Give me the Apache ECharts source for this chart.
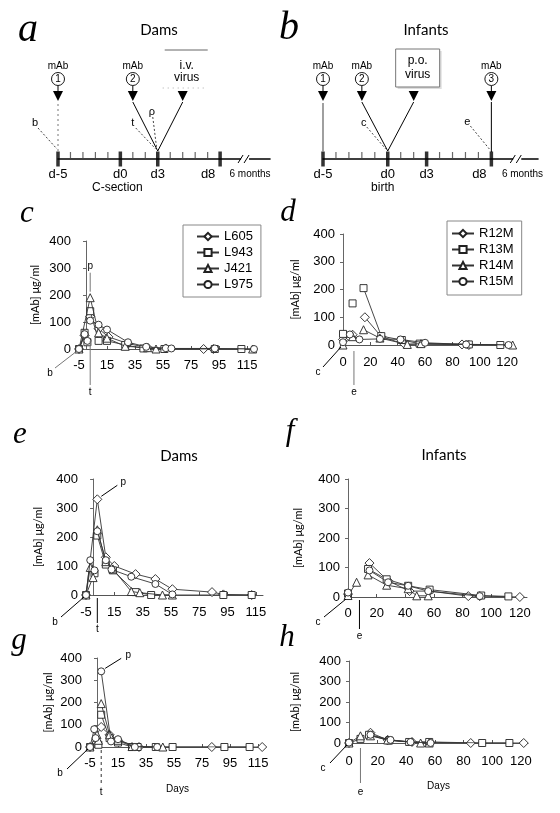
<!DOCTYPE html>
<html><head><meta charset="utf-8">
<script src="https://cdn.jsdelivr.net/npm/echarts@6.0.0/dist/echarts.min.js"></script>
<style>html,body{margin:0;padding:0;background:#fff;}#main{width:560px;height:813px;}</style>
</head><body><div id="main"></div>
<script>
const GAP = '-';
// ---------- timelines (panels a, b) ----------
const timelineMajorDays = [-5, 0, 3, 8];
const timelineMajorLabels = ['d-5', 'd0', 'd3', 'd8'];
const timelineMinorDays = [-4, -3, -2, -1, 1, 2, 4, 5, 6, 7];
const damsMabDays = [-5, 1];
const damsVirusDay = 5;
const damsEventDay = 3;
const infantMabDays = [-5, -2, 8];
const infantVirusDay = 2;
const infantEventDay = 0;
const breakDay = 10;

// ---------- animals ----------
const damNames = ['L605', 'L943', 'J421', 'L975'];
const infantNames = ['R12M', 'R13M', 'R14M', 'R15M'];

// ---------- panel c (dams) [day, µg/ml] ----------
const cL605 = [[-5,0],[-1,50],GAP,[3,120],[9,75],[16,45],[30,20],[44,5],[57,2],[84,0],[91,0]];
const cL943 = [[-5,0],[-1,60],[1,25],GAP,[3,140],[9,30],[15,30],[28,15],[41,2],[56,0],[92,0],[111,0]];
const cJ421 = [[-5,0],[3,190],[9,60],[15,40],[28,10],[44,5],[50,0],[119,0]];
const cL975 = [[-5,0],[-1,55],[1,30],GAP,[3,105],[9,90],[15,72],[30,25],[43,8],[57,3],[61,2],[92,2],[120,0]];
// ---------- panel d (infants) ----------
const dR12M = [[0,20],[7,37],GAP,[16,100],[28,30],[45,3],[87,2],[92,0]];
const dR13M = [[0,40],GAP,[7,150],GAP,[15,205],[28,32],[43,18],[56,5],[92,2],[115,0]];
const dR14M = [[0,0],[7,30],GAP,[15,55],[27,25],[47,2],[57,5],[124,0]];
const dR15M = [[0,10],[5,38],[12,20],[27,22],[42,20],[60,8],[90,2],[121,0]];
// ---------- panel e (dams) ----------
const eL605 = [[-5,0],[3,330],[9,130],[15,100],[30,72],[44,55],[56,20],[84,10],[92,2],[112,0]];
const eL943 = [[-5,0],[1,75],GAP,[3,205],[9,105],[14,85],[30,10],[41,0],[92,0],[112,0]];
const eJ421 = [[-5,0],[-2,95],[0,60],GAP,[3,225],[9,115],[14,90],[27,12],[33,8],[49,0],[56,0]];
const eL975 = [[-5,0],[-2,120],[1,85],GAP,[3,220],[9,120],[13,88],[27,63],[44,38],[56,2]];
// ---------- panel f (infants) ----------
const fR12M = [[0,10],GAP,[15,115],[28,55],[43,20],[57,20],[84,3],[92,3],[120,0]];
const fR13M = [[0,12],GAP,[14,95],[27,60],[42,38],[57,25],[93,5],[112,2]];
const fR14M = [[0,5],[6,50],GAP,[14,75],[27,40],[42,28],[48,4],[56,4]];
const fR15M = [[0,15],GAP,[15,90],[28,50],[42,38],[56,20],[92,3]];
// ---------- panel g (dams) ----------
const gL605 = [[-5,0],[3,90],[9,55],[15,30],[30,0],[82,0],[118,0]];
const gL943 = [[-5,0],[1,10],GAP,[3,145],[9,40],[15,20],[25,0],[29,0],[42,0],[54,0],[91,0],[109,0]];
const gJ421 = [[-5,0],[0,55],[1,30],GAP,[3,195],[9,55],[15,30],[25,2],[47,0]];
const gL975 = [[-5,0],[-2,80],[-1,40],GAP,[3,340],[10,25],[15,35],[27,0],[43,0]];
// ---------- panel h (infants) ----------
const hR12M = [[0,0],GAP,[15,50],[27,15],[44,5],[85,0],[122,0]];
const hR13M = [[0,0],[8,20],GAP,[14,40],[28,12],[42,5],[56,5],[93,0],[112,0]];
const hR14M = [[0,0],[8,35],GAP,[15,35],[27,15],[50,0],[56,0]];
const hR15M = [[0,2],GAP,[15,40],[29,15],[43,5],[57,0]];

const yMin = 0, yMax = 400, yStep = 100, xStep = 20;
const yName = '[mAb] \u03bcg/ml';

// ---------- layout / style ----------
const SANS = '"Liberation Sans", Arial, sans-serif';
const HUM = 'Lato, "Open Sans", sans-serif';
const SERIF = '"Liberation Serif", "DejaVu Serif", serif';
const symbols = ['diamond', 'rect', 'triangle', 'circle'];
const symSizes = [9, 7, 8, 7];

const grids = [
  {left: 58, top: 150, width: 212, height: 9},
  {left: 323, top: 150, width: 215, height: 9},
  {left: 79, top: 241, width: 175, height: 108},
  {left: 343, top: 234, width: 171, height: 111},
  {left: 86, top: 479, width: 177, height: 116},
  {left: 348, top: 479, width: 179, height: 118},
  {left: 90, top: 658, width: 175, height: 89},
  {left: 349, top: 661, width: 179, height: 82}
];

const panels = [
  {gi: 2, names: damNames, data: [cL605, cL943, cJ421, cL975], xmin: -5, gap: 38, lm: 10},
  {gi: 3, names: infantNames, data: [dR12M, dR13M, dR14M, dR15M], xmin: 0, gap: 42, lm: 11},
  {gi: 4, names: damNames, data: [eL605, eL943, eJ421, eL975], xmin: -5, gap: 42, lm: 11},
  {gi: 5, names: infantNames, data: [fR12M, fR13M, fR14M, fR15M], xmin: 0, gap: 44, lm: 10},
  {gi: 6, names: damNames, data: [gL605, gL943, gJ421, gL975], xmin: -5, gap: 36, lm: 10, days: true, dgap: 37},
  {gi: 7, names: infantNames, data: [hR12M, hR13M, hR14M, hR15M], xmin: 0, gap: 48, lm: 12, days: true, dgap: 38}
];

const xAxes = [], yAxes = [], series = [];

function tlFormatter(v) {
  const i = timelineMajorDays.indexOf(Math.round(v * 1000) / 1000);
  if (i < 0) return '';
  return v === 8 ? '{s|' + timelineMajorLabels[i] + '}' : timelineMajorLabels[i];
}
[[0, 12], [1, 11.6]].forEach(([gi, max]) => {
  xAxes.push({gridIndex: gi, type: 'value', min: -5, max: max, interval: 1,
    splitLine: {show: false}, axisTick: {show: false},
    axisLine: {show: true, onZero: false, lineStyle: {color: '#000', width: 1.6}},
    axisLabel: {show: true, margin: 9, fontSize: 13, fontFamily: SANS, color: '#000',
      showMaxLabel: false, formatter: tlFormatter,
      rich: {s: {padding: [0, 24, 0, 0], fontSize: 13, fontFamily: SANS, color: '#000'}}}});
  yAxes.push({gridIndex: gi, type: 'value', min: 0, max: 1, show: false});
  series.push({type: 'scatter', xAxisIndex: gi, yAxisIndex: gi, silent: true, z: 3,
    data: timelineMinorDays.map(d => [d, 0]), symbol: 'rect', symbolSize: [1.2, 7],
    symbolOffset: [0, -3.5], itemStyle: {color: '#444'}});
  series.push({type: 'scatter', xAxisIndex: gi, yAxisIndex: gi, silent: true, z: 4,
    data: timelineMajorDays.map(d => [d, 0]), symbol: 'rect', symbolSize: [3.5, 15],
    itemStyle: {color: '#000'}});
});

panels.forEach(p => {
  xAxes.push({gridIndex: p.gi, type: 'value', min: p.xmin, max: p.xmin === -5 ? 120 : 125,
    interval: xStep, splitLine: {show: false},
    axisLine: {onZero: false, lineStyle: {color: '#555', width: 1}},
    axisTick: {show: true, inside: true, length: 3, lineStyle: {color: '#555'}},
    axisLabel: {showMaxLabel: false, margin: p.lm, fontSize: 13, fontFamily: SANS, color: '#000'},
    name: p.days ? 'Days' : '', nameLocation: 'middle', nameGap: p.dgap || 30,
    nameTextStyle: {fontSize: 10, fontFamily: SANS, color: '#000'}});
  yAxes.push({gridIndex: p.gi, type: 'value', min: yMin, max: yMax, interval: yStep,
    splitLine: {show: false},
    axisLine: {show: true, lineStyle: {color: '#666', width: 1}},
    axisTick: {show: true, length: 3, lineStyle: {color: '#666'}},
    axisLabel: {margin: 8, fontSize: 13, fontFamily: SANS, color: '#000'},
    name: yName, nameLocation: 'middle', nameGap: p.gap,
    nameTextStyle: {fontSize: 11, fontFamily: HUM, color: '#000'}});
  p.data.forEach((arr, k) => {
    series.push({type: 'line', name: p.names[k], xAxisIndex: p.gi, yAxisIndex: p.gi,
      data: arr.map(v => v === GAP ? ['-', '-'] : v), connectNulls: false,
      symbol: symbols[k], symbolSize: symSizes[k], showSymbol: true, showAllSymbol: true,
      lineStyle: {color: '#333', width: 0.9}, itemStyle: {color: '#fff', borderColor: '#222', borderWidth: 0.9},
      emphasis: {disabled: true}, z: 5 + k});
  });
});

const legendBase = {orient: 'vertical', itemWidth: 22, itemHeight: 9, itemGap: 3,
  borderColor: '#888', borderWidth: 1, backgroundColor: '#fff',
  textStyle: {fontSize: 13, fontFamily: SANS, color: '#000'}, selectedMode: false};

const option = {
  animation: false,
  backgroundColor: '#fff',
  grid: grids,
  xAxis: xAxes,
  yAxis: yAxes,
  legend: [
    Object.assign({}, legendBase, {data: damNames, left: 183, top: 225, padding: [5, 8, 6, 13]}),
    Object.assign({}, legendBase, {data: infantNames, left: 447, top: 221, padding: [6, 8, 7, 4]})
  ],
  series: series
};

const chart = echarts.init(document.getElementById('main'), null, {renderer: 'canvas'});
chart.setOption(option);

// ---------- annotations ----------
const P = (gi, x, y) => chart.convertToPixel({gridIndex: gi}, [x, y]);
const G = [];
function T(x, y, text, o) {
  G.push({type: 'text', silent: true, z: 50, x: x, y: y,
    style: Object.assign({text: text, fill: '#000', fontSize: 12, fontFamily: SANS, align: 'center', verticalAlign: 'middle'}, o || {})});
}
function L(x1, y1, x2, y2, o) {
  G.push({type: 'line', silent: true, z: 49, shape: {x1: x1, y1: y1, x2: x2, y2: y2},
    style: Object.assign({stroke: '#000', lineWidth: 1}, o || {})});
}
function ARROW(x, y) {
  G.push({type: 'polygon', silent: true, z: 50, shape: {points: [[x - 5, y - 10], [x + 5, y - 10], [x, y]]}, style: {fill: '#000'}});
}
function CIRC(x, y, n) {
  G.push({type: 'circle', silent: true, z: 50, shape: {cx: x, cy: y, r: 6.5}, style: {fill: '#fff', stroke: '#000', lineWidth: 0.9}});
  T(x, y + 0.5, String(n), {fontSize: 10});
}
function mab(x, n) { T(x, 66, 'mAb', {fontSize: 10}); CIRC(x, 79, n); L(x, 85.5, x, 92); ARROW(x, 101); }
const DASH = {lineDash: [2, 2], stroke: '#444'};
function brk(gi, yTL) {
  const xb = P(gi, breakDay, 0)[0];
  G.push({type: 'rect', silent: true, z: 48, shape: {x: xb - 4, y: yTL - 3, width: 8, height: 6}, style: {fill: '#fff'}});
  L(xb - 7, yTL + 4, xb - 2, yTL - 4); L(xb - 1, yTL + 4, xb + 4, yTL - 4);
  T(P(gi, 10.4, 0)[0], 174, '6 months', {fontSize: 10});
}

// panel a
(function () {
  const yTL = P(0, 0, 0)[1];
  const xc = P(0, damsEventDay, 0)[0];
  const x1 = P(0, damsMabDays[0], 0)[0], x2 = P(0, damsMabDays[1], 0)[0], xv = P(0, damsVirusDay, 0)[0];
  mab(x1, 1); mab(x2, 2);
  L(x1, 104, x1, yTL - 8, {stroke: '#777', lineDash: [2, 3]});
  L(x2, 102, xc, yTL - 8); L(xv, 102, xc, yTL - 8);
  ARROW(xv, 101);
  T(xv + 4, 66, 'i.v.', {fontSize: 12}); T(xv + 4, 78, 'virus', {fontSize: 12});
  L(xv - 18, 50, xv + 25, 50, {stroke: '#666'}); L(xv - 20, 88, xv + 25, 88, {stroke: '#aaa', lineDash: [1, 4]});
  T(x1 - 23, 123, 'b', {fontSize: 11}); L(x1 - 20, 128, x1 - 1, yTL - 10, DASH);
  T(xc - 25, 123, 't', {fontSize: 11}); L(xc - 22, 128, xc - 2, yTL - 10, DASH);
  T(xc - 6, 112, '\u03c1', {fontSize: 11}); L(xc - 5, 117, xc - 1, yTL - 10, DASH);
  T(P(0, 0, 0)[0] - 3, 188, 'C-section', {fontSize: 12});
  brk(0, yTL);
})();
// panel b
(function () {
  const yTL = P(1, 0, 0)[1];
  const xc = P(1, infantEventDay, 0)[0];
  const xs = infantMabDays.map(d => P(1, d, 0)[0]);
  const xv = P(1, infantVirusDay, 0)[0];
  mab(xs[0], 1); mab(xs[1], 2); mab(xs[2], 3);
  L(xs[0], 103, xs[0], yTL - 7, {stroke: '#888', lineWidth: 1.6});
  L(xs[1], 102, xc, yTL - 8); L(xv, 102, xc, yTL - 8);
  L(xs[2], 102, xs[2], yTL - 7);
  ARROW(xv, 101);
  G.push({type: 'rect', silent: true, z: 47, shape: {x: xv - 16, y: 51, width: 44, height: 38}, style: {fill: '#ddd'}});
  G.push({type: 'rect', silent: true, z: 48, shape: {x: xv - 18, y: 49, width: 44, height: 38}, style: {fill: '#fff', stroke: '#777', lineWidth: 1}});
  T(xv + 4, 61, 'p.o.', {fontSize: 12}); T(xv + 4, 75, 'virus', {fontSize: 12});
  T(xc - 24, 123, 'c', {fontSize: 11}); L(xc - 21, 127, xc - 2, yTL - 10, DASH);
  T(xs[2] - 24, 122, 'e', {fontSize: 11}); L(xs[2] - 21, 126, xs[2] - 2, yTL - 10, DASH);
  T(xc - 5, 188, 'birth', {fontSize: 12});
  brk(1, yTL);
})();

// data panels
function origin(gi, xmin) { return P(gi, xmin, 0); }
const SM = {fontSize: 10};
const GREY = {stroke: '#777'};
(function () { // c
  const O = origin(2, -5);
  T(O[0] - 29, O[1] + 24, 'b', SM); L(O[0] - 24, O[1] + 19, O[0] - 2, O[1] + 2, GREY);
  const tx = P(2, 3, 0)[0];
  L(tx, O[1] - 8, tx, O[1] + 36, GREY); T(tx, O[1] + 43, 't', SM);
  const pk = P(2, 3, 190);
  L(pk[0], pk[1] - 6, pk[0], pk[1] - 25, GREY); T(pk[0], pk[1] - 31, 'p', SM);
})();
(function () { // d
  const O = origin(3, 0);
  T(O[0] - 25, O[1] + 27, 'c', SM); L(O[0] - 20, O[1] + 22, O[0] - 2, O[1] + 2);
  const ex = P(3, 8, 0)[0];
  L(ex, O[1] + 6, ex, O[1] + 40, GREY); T(ex, O[1] + 47, 'e', SM);
})();
(function () { // e
  const O = origin(4, -5);
  T(O[0] - 31, O[1] + 27, 'b', SM); L(O[0] - 25, O[1] + 22, O[0] - 2, O[1] + 2);
  const tx = P(4, 3, 0)[0];
  L(tx, O[1] + 3, tx, O[1] + 28); T(tx, O[1] + 34, 't', SM);
  const pk = P(4, 3, 330);
  L(pk[0] + 4, pk[1] - 3, pk[0] + 20, pk[1] - 14); T(pk[0] + 26, pk[1] - 17, 'p', SM);
  T(179, 456, 'Dams', {fontSize: 15, fontFamily: HUM});
})();
(function () { // f
  const O = origin(5, 0);
  T(O[0] - 30, O[1] + 25, 'c', SM); L(O[0] - 24, O[1] + 20, O[0] - 2, O[1] + 2);
  const ex = P(5, 8, 0)[0];
  L(ex, O[1] + 3, ex, O[1] + 32); T(ex, O[1] + 39, 'e', SM);
  T(444, 455, 'Infants', {fontSize: 15, fontFamily: HUM});
})();
(function () { // g
  const O = origin(6, -5);
  T(O[0] - 30, O[1] + 26, 'b', SM); L(O[0] - 23, O[1] + 22, O[0] - 2, O[1] + 2);
  const tx = P(6, 3, 0)[0];
  L(tx, O[1] + 3, tx, O[1] + 38, {lineDash: [3, 3], stroke: '#333'}); T(tx, O[1] + 45, 't', SM);
  const pk = P(6, 3, 340);
  L(pk[0] + 4, pk[1] - 3, pk[0] + 20, pk[1] - 13); T(pk[0] + 27, pk[1] - 16, 'p', SM);
})();
(function () { // h
  const O = origin(7, 0);
  T(O[0] - 26, O[1] + 25, 'c', SM); L(O[0] - 19, O[1] + 20, O[0] - 2, O[1] + 2);
  const ex = P(7, 8, 0)[0];
  L(ex, O[1] + 5, ex, O[1] + 40, GREY); T(ex, O[1] + 49, 'e', SM);
})();

// titles & panel letters
T(159, 30, 'Dams', {fontSize: 15, fontFamily: HUM});
T(426, 30, 'Infants', {fontSize: 15, fontFamily: HUM});
const LET = (x, y, s, size) => T(x, y, s, {fontSize: size, fontFamily: SERIF, fontStyle: 'italic'});
LET(28, 30, 'a', 40); LET(289, 28, 'b', 40);
LET(27, 214, 'c', 31); LET(288, 213, 'd', 31);
LET(20, 435, 'e', 31); LET(290, 432, 'f', 31);
LET(19, 641, 'g', 31); LET(287, 638, 'h', 31);

chart.setOption({graphic: G});
</script>
</body></html>
